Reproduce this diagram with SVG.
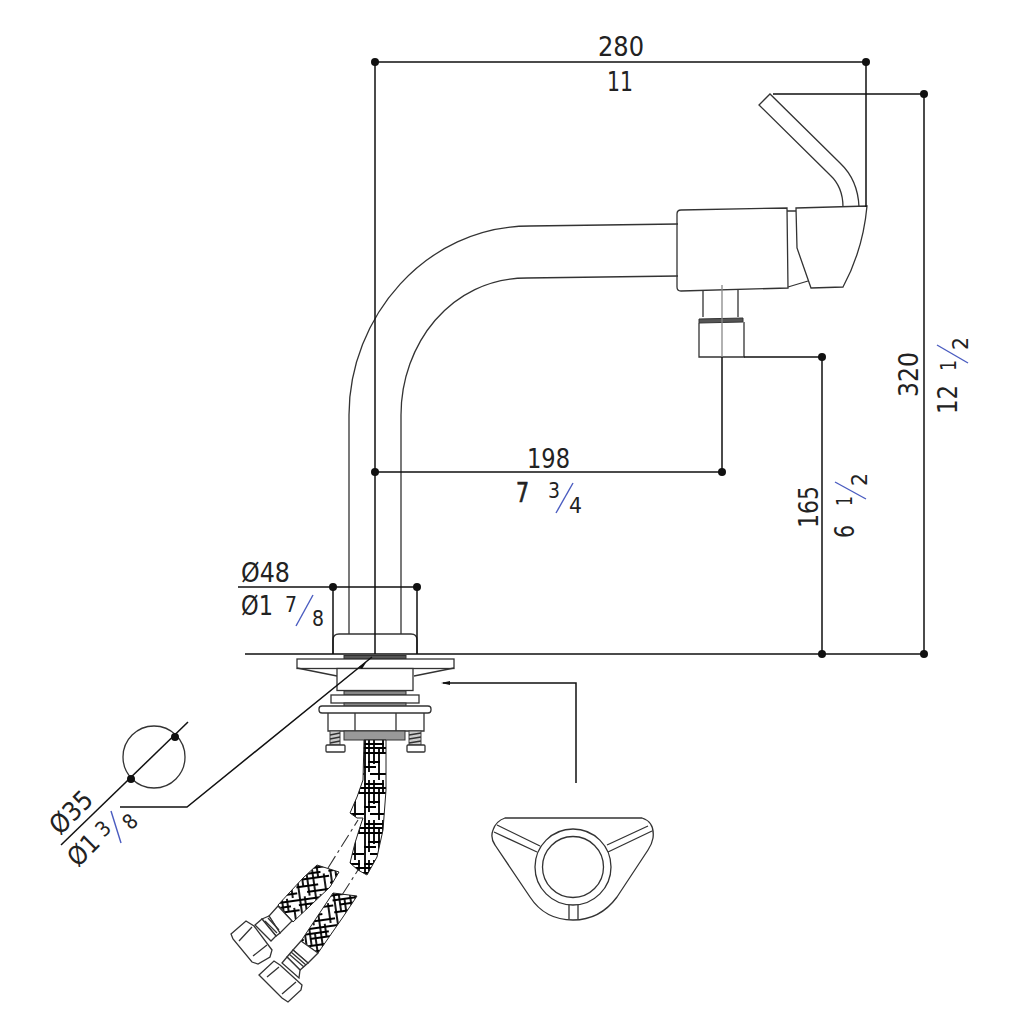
<svg xmlns="http://www.w3.org/2000/svg" width="1024" height="1024" viewBox="0 0 1024 1024">
<style>
.g{fill:none;stroke:#333;stroke-width:1.3}
.f{fill:#fff;stroke:#333;stroke-width:1.3}
.d{fill:none;stroke:#111;stroke-width:1.5}
.b{fill:none;stroke:#4a5cc0;stroke-width:1.4}
.h0{fill:url(#hatch0);stroke:#222;stroke-width:1}
.h1{fill:url(#hatch1);stroke:#222;stroke-width:1}
.dash{fill:none;stroke:#333;stroke-width:1.1;stroke-dasharray:14 4 3 4}
text{font-family:"DejaVu Sans",sans-serif;font-size:26px;fill:#222}
.s{font-size:21px}
circle.p{fill:#111}
</style>
<defs>
<pattern id="hatch0" width="24" height="40" patternUnits="userSpaceOnUse" x="364" y="740">
<rect width="24" height="40" fill="#fff"/>
<path d="M1 0V40M5 0V32M10 0V24M15 8V40M19 0V12M0 4H20M0 8H24M0 13H24M4 22H16M0 27H12M6 34H24" stroke="#000" stroke-width="1.8" fill="none"/>
</pattern>
<pattern id="hatch1" width="34" height="30" patternUnits="userSpaceOnUse" patternTransform="rotate(-8)">
<rect width="34" height="30" fill="#fff"/>
<path d="M2 0V30M7 0V20M12 8V30M18 0V30M23 0V14M29 10V30M0 3H34M0 8H26M6 13H34M0 20H22M10 26H34" stroke="#000" stroke-width="1.8" fill="none"/>
</pattern>
</defs>

<g id="spout">
<path class="g" d="M678 224L530 226C425 226 349 318 349 415V634"/>
<path class="g" d="M678 276L527 278C450 278 401 345 401 415V634"/>
</g>

<g id="head">
<path class="g" d="M843 207Q843 187 830 175L759 105L770 94L840 163Q858 180 859 207"/>
<path class="g" d="M681 210L787 208L788 288L681 291Q677 291 677 287V214Q677 210 681 210Z"/>
<path class="g" d="M787 211H796M788 287L808 281"/>
<path class="g" d="M796 208L867 206Q863 250 843 287L811 288L797 248Z"/>
<path class="g" d="M703 291V317M738 290V317"/>
<path d="M699 319L743 318V322L699 323Z" fill="#555" stroke="#333"/>
<path class="g" d="M699 323V357H744V322"/>
</g>

<g id="base">
<path class="g" d="M333 654V640Q333 634 339 634H411Q417 634 417 640V654"/>
<rect x="344" y="655.500" width="62" height="3.500" fill="#555" stroke="#333"/>
<rect class="f" x="297" y="659" width="157" height="9.500"/>
<path class="g" d="M297 668L337 676M454 668L414 676"/>
<rect class="f" x="337" y="668.500" width="76" height="22"/>
<rect x="344" y="691" width="62" height="4" fill="#888" stroke="#333"/>
<rect class="f" x="331" y="695" width="88" height="8"/>
<rect x="344" y="703" width="62" height="4" fill="#888" stroke="#333"/>
<rect class="f" x="319" y="706" width="112" height="7" rx="3"/>
<path class="g" d="M328 713V731H424V713M355 713V731M396 713V731"/>
<rect x="344" y="731" width="61" height="9" fill="#999" stroke="#333"/>
<rect x="330" y="731" width="10" height="14" fill="#ccc" stroke="#444"/>
<rect x="409" y="731" width="12" height="14" fill="#ccc" stroke="#444"/>
<path class="g" d="M330 735L340 733M330 739L340 737M330 743L340 741M409 735L421 733M409 739L421 737M409 743L421 741"/>
<rect x="326" y="745" width="19" height="7" class="f" rx="1"/>
<rect x="407" y="745" width="18" height="7" class="f" rx="1"/>
</g>

<g id="hoses">
<path class="h0" d="M364 740H386V790L383 830L377 857L367 875L358 870L350 863L355 843L360 827L363 818L357 818L350 813L357 797L363 780Z"/>
<path class="h1" d="M317 865L339 872L330 887L293 922L278 905L303 878Z"/>
<path class="h1" d="M333 893L357 896L343 917L318 953L301 941L315 920Z"/>
<path class="dash" d="M328 868L358 820M342 895L358 870"/>
<path class="f" d="M278 906L292 921L280 933L269 916Z"/>
<path class="f" d="M262 919L269 916L280 933L276 936Z"/>
<path class="g" d="M265 921L277 933M268 918L279 930"/>
<path class="f" d="M255 925L262 919L276 936L271 941Z"/>
<path class="f" d="M231 934L246 921L254 926L272 950L270 957L258 964L252 962L233 939Z"/>
<path class="g" d="M239 941L252 927M253 956L267 945"/>
<path class="f" d="M301 941L293 950L308 963L318 953Z"/>
<path class="f" d="M287 957L293 950L308 963L300 970Z"/>
<path class="g" d="M289 954L304 967M291 952L306 965"/>
<path class="f" d="M282 963L287 957L300 970L299 978Z"/>
<path class="f" d="M259 975L274 961L280 965L302 985L301 990L288 1002L282 998L262 978Z"/>
<path class="g" d="M267 977L279 967M282 994L296 982"/>
</g>

<g id="knob">
<path class="g" d="M505 818H642Q655 822 653 838Q652 844 648 850L617 897Q600 920 573 920Q545 920 530 897L495 845Q490 838 493 830Q496 821 505 818Z"/>
<circle class="g" cx="573" cy="867" r="38"/>
<circle class="g" cx="573" cy="867" r="30.500"/>
<path class="g" d="M497 825L540 846M494 832L537 852M648 826L607 845M652 831L608 852M569 905V919M578 905V919"/>
</g>

<g id="connectors">
<path class="d" d="M375 62H866M866 62V207M375 62V654"/>
<path class="d" d="M773 94H924M924 94V654M245 654H924"/>
<path class="d" d="M822 357V654M744 357H822M722 357V472M375 472H722"/>
<path class="g" d="M722 285V357" style="stroke:#888"/>
<path class="d" d="M238 587H417M333 587V654M417 587V654"/>
<path class="d" d="M443 683H576V783"/>
<path d="M441 683L450 681V685Z" fill="#111"/>
<path class="d" d="M372 657L187 807H120"/>
<path d="M359 667L367 661L362 669Z" fill="#111"/>
<path class="d" d="M188 722L61 845"/>
<circle class="g" cx="154" cy="757" r="31"/>
<circle class="p" cx="375" cy="62" r="4"/><circle class="p" cx="866" cy="62" r="4"/>
<circle class="p" cx="924" cy="94" r="4"/><circle class="p" cx="924" cy="654" r="4"/>
<circle class="p" cx="822" cy="654" r="4"/><circle class="p" cx="822" cy="357" r="4"/>
<circle class="p" cx="722" cy="472" r="4"/><circle class="p" cx="375" cy="472" r="4"/>
<circle class="p" cx="333" cy="587" r="4"/><circle class="p" cx="417" cy="587" r="4"/>
<circle class="p" cx="175" cy="737" r="4"/><circle class="p" cx="131" cy="779" r="4"/>
<path class="b" d="M937 345L968 363"/>
<path class="b" d="M835 482L866 499"/>
<path class="b" d="M573 483L556 513"/>
<path class="b" d="M313 595L296 626"/>
<path class="b" d="M111 811L121 843"/>
</g>

<g id="labels">
<text x="598" y="56" textLength="46" lengthAdjust="spacingAndGlyphs">280</text>
<text x="607" y="91" textLength="26" lengthAdjust="spacingAndGlyphs">11</text>
<text x="527" y="468" textLength="43" lengthAdjust="spacingAndGlyphs">198</text>
<text x="516" y="502" stroke="#222" stroke-width="0.7" textLength="13" lengthAdjust="spacingAndGlyphs">7</text>
<text x="548" y="498" class="s" textLength="12" lengthAdjust="spacingAndGlyphs">3</text>
<text x="569" y="513" class="s" textLength="13" lengthAdjust="spacingAndGlyphs">4</text>
<text x="241" y="582" textLength="49" lengthAdjust="spacingAndGlyphs">Ø48</text>
<text x="241" y="615" textLength="32" lengthAdjust="spacingAndGlyphs">Ø1</text>
<text x="285" y="612" class="s" textLength="12" lengthAdjust="spacingAndGlyphs">7</text>
<text x="312" y="626" class="s" textLength="12" lengthAdjust="spacingAndGlyphs">8</text>
<text transform="translate(918 397) rotate(-90)" textLength="45" lengthAdjust="spacingAndGlyphs">320</text>
<text transform="translate(957 414) rotate(-90)" textLength="29" lengthAdjust="spacingAndGlyphs">12</text>
<text transform="translate(956 371) rotate(-90)" class="s" textLength="11" lengthAdjust="spacingAndGlyphs">1</text>
<text transform="translate(968 350) rotate(-90)" class="s" textLength="13" lengthAdjust="spacingAndGlyphs">2</text>
<text transform="translate(818 528) rotate(-90)" textLength="42" lengthAdjust="spacingAndGlyphs">165</text>
<text transform="translate(854 538) rotate(-90)" textLength="13" lengthAdjust="spacingAndGlyphs">6</text>
<text transform="translate(852 506) rotate(-90)" class="s" textLength="10" lengthAdjust="spacingAndGlyphs">1</text>
<text transform="translate(867 486) rotate(-90)" class="s" textLength="13" lengthAdjust="spacingAndGlyphs">2</text>
<text transform="translate(60 836) rotate(-45)" textLength="49" lengthAdjust="spacingAndGlyphs">Ø35</text>
<text transform="translate(78 868) rotate(-45)" textLength="33" lengthAdjust="spacingAndGlyphs">Ø1</text>
<text transform="translate(104 838) rotate(-45)" class="s" textLength="12" lengthAdjust="spacingAndGlyphs">3</text>
<text transform="translate(131 831) rotate(-45)" class="s" textLength="12" lengthAdjust="spacingAndGlyphs">8</text>
</g>
</svg>
